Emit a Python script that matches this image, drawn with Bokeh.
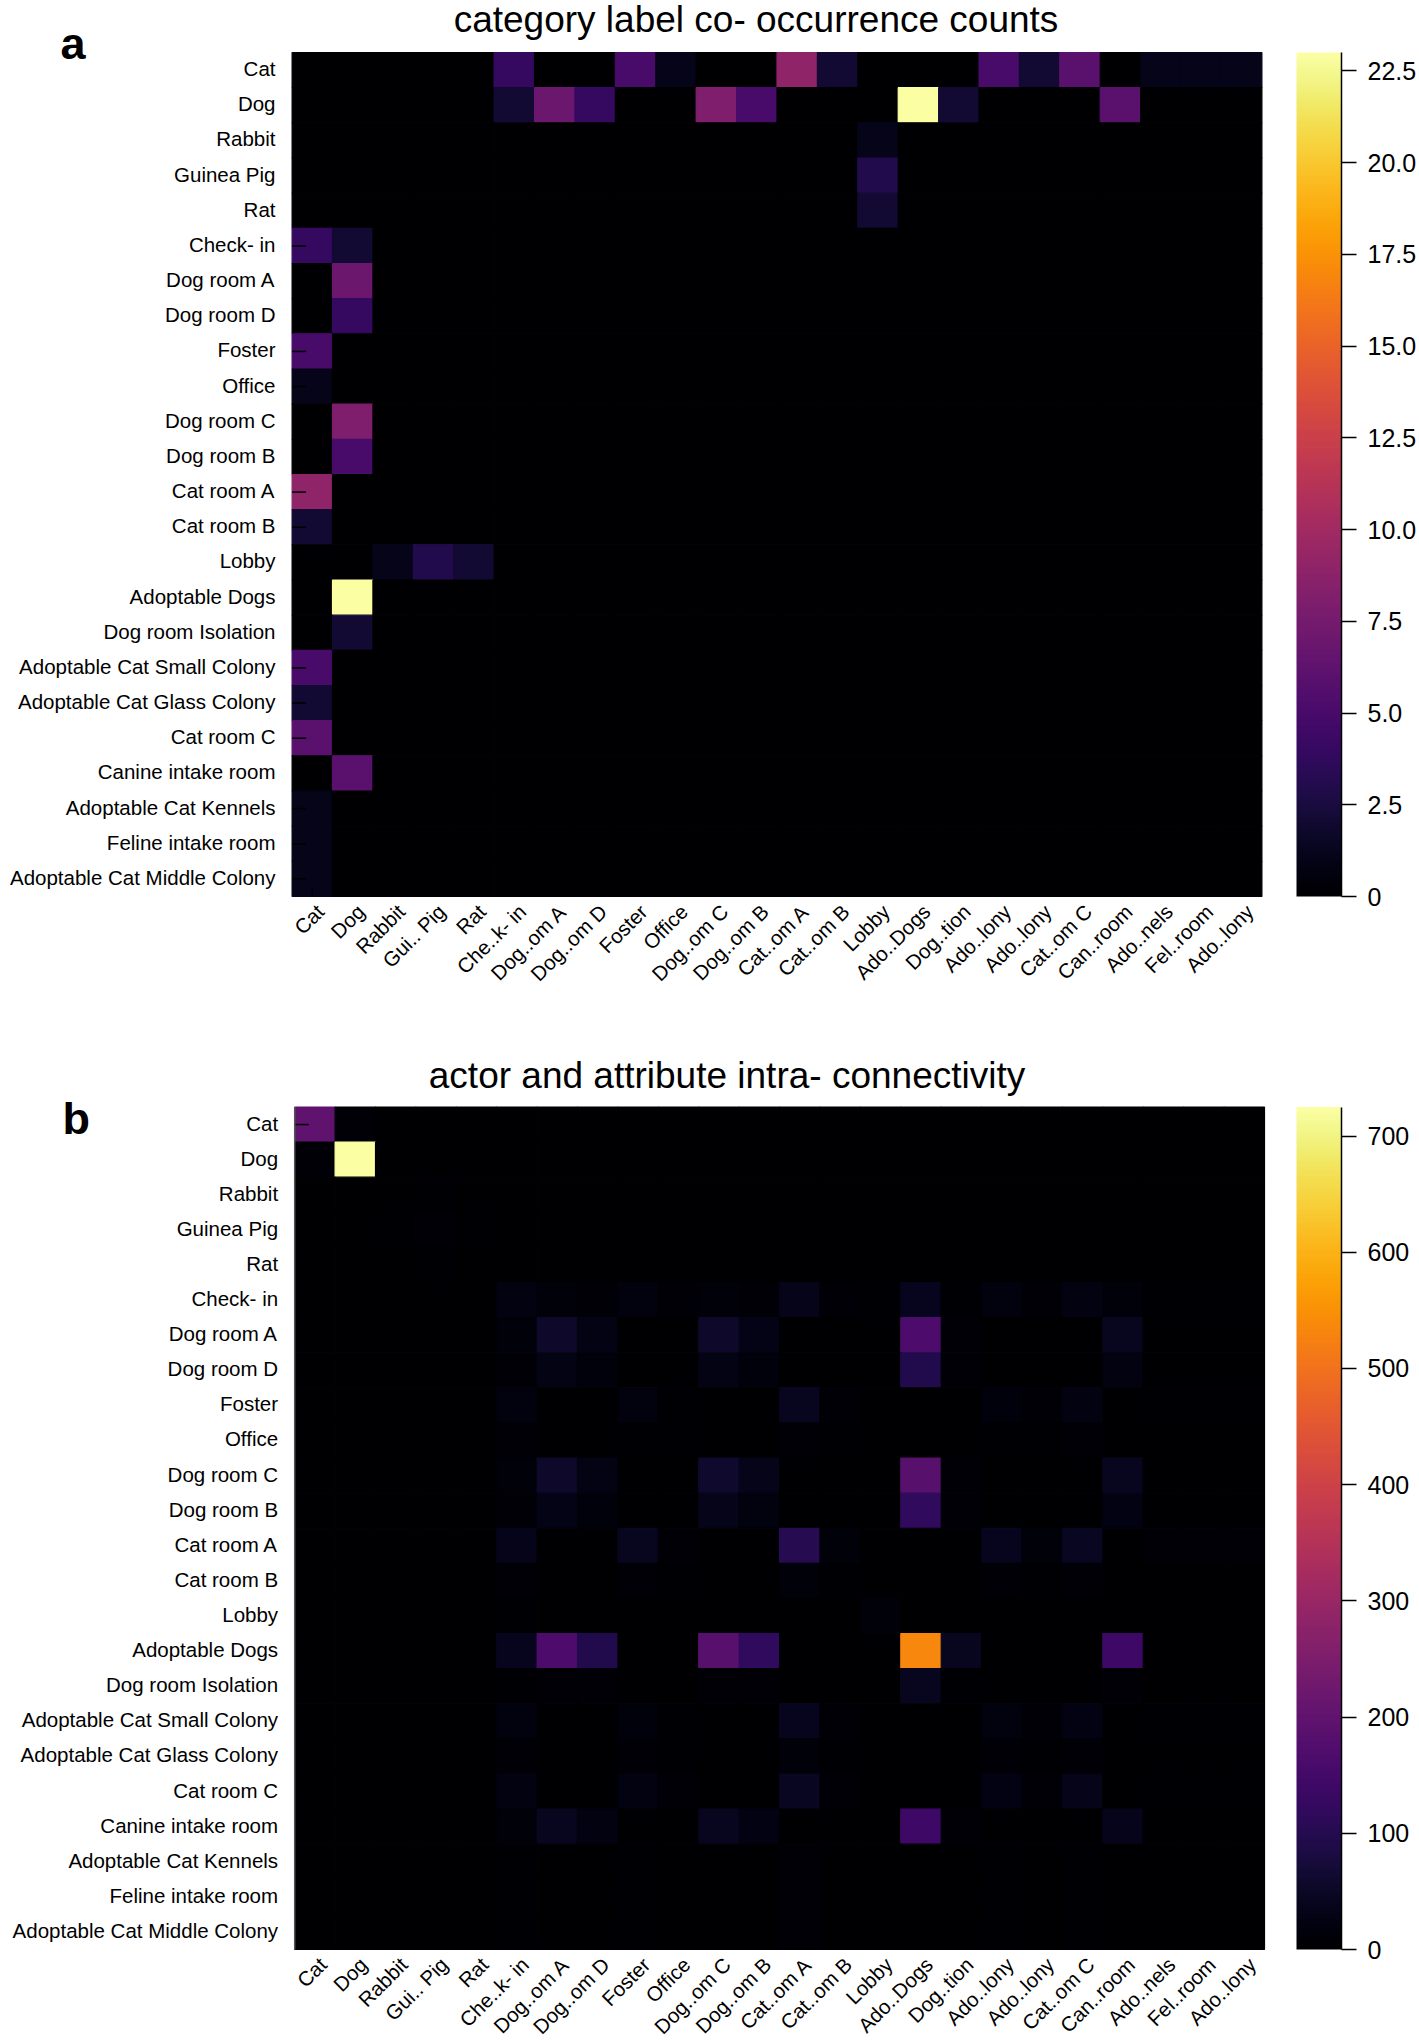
import math
import numpy as np
from bokeh.plotting import figure
from bokeh.layouts import column
from bokeh.models import (Range1d, LinearAxis, FixedTicker,
                          ColumnDataSource, LinearColorMapper)
from bokeh.transform import linear_cmap
from bokeh.palettes import Inferno256
from bokeh.core.properties import value
from bokeh.embed import file_html
from bokeh.resources import INLINE

# ---------------- data ----------------
categories = ["Cat", "Dog", "Rabbit", "Guinea Pig", "Rat", "Check- in",
              "Dog room A", "Dog room D", "Foster", "Office", "Dog room C",
              "Dog room B", "Cat room A", "Cat room B", "Lobby",
              "Adoptable Dogs", "Dog room Isolation",
              "Adoptable Cat Small Colony", "Adoptable Cat Glass Colony",
              "Cat room C", "Canine intake room", "Adoptable Cat Kennels",
              "Feline intake room", "Adoptable Cat Middle Colony"]

x_tick_labels = ["Cat", "Dog", "Rabbit", "Gui.. Pig", "Rat", "Che..k- in",
                 "Dog..om A", "Dog..om D", "Foster", "Office", "Dog..om C",
                 "Dog..om B", "Cat..om A", "Cat..om B", "Lobby", "Ado..Dogs",
                 "Dog..tion", "Ado..lony", "Ado..lony", "Cat..om C",
                 "Can..room", "Ado..nels", "Fel..room", "Ado..lony"]

# panel a: category label co-occurrence counts (rows/cols follow `categories`)
cooccurrence = [
    [0, 0, 0, 0, 0, 4, 0, 0, 5, 1, 0, 0, 9, 2, 0, 0, 0, 5, 2, 6, 0, 1, 1, 1],
    [0, 0, 0, 0, 0, 2, 7, 4, 0, 0, 8, 5, 0, 0, 0, 23, 2, 0, 0, 0, 6, 0, 0, 0],
    [0, 0, 0, 0, 0, 0, 0, 0, 0, 0, 0, 0, 0, 0, 1, 0, 0, 0, 0, 0, 0, 0, 0, 0],
    [0, 0, 0, 0, 0, 0, 0, 0, 0, 0, 0, 0, 0, 0, 3, 0, 0, 0, 0, 0, 0, 0, 0, 0],
    [0, 0, 0, 0, 0, 0, 0, 0, 0, 0, 0, 0, 0, 0, 2, 0, 0, 0, 0, 0, 0, 0, 0, 0],
    [4, 2, 0, 0, 0, 0, 0, 0, 0, 0, 0, 0, 0, 0, 0, 0, 0, 0, 0, 0, 0, 0, 0, 0],
    [0, 7, 0, 0, 0, 0, 0, 0, 0, 0, 0, 0, 0, 0, 0, 0, 0, 0, 0, 0, 0, 0, 0, 0],
    [0, 4, 0, 0, 0, 0, 0, 0, 0, 0, 0, 0, 0, 0, 0, 0, 0, 0, 0, 0, 0, 0, 0, 0],
    [5, 0, 0, 0, 0, 0, 0, 0, 0, 0, 0, 0, 0, 0, 0, 0, 0, 0, 0, 0, 0, 0, 0, 0],
    [1, 0, 0, 0, 0, 0, 0, 0, 0, 0, 0, 0, 0, 0, 0, 0, 0, 0, 0, 0, 0, 0, 0, 0],
    [0, 8, 0, 0, 0, 0, 0, 0, 0, 0, 0, 0, 0, 0, 0, 0, 0, 0, 0, 0, 0, 0, 0, 0],
    [0, 5, 0, 0, 0, 0, 0, 0, 0, 0, 0, 0, 0, 0, 0, 0, 0, 0, 0, 0, 0, 0, 0, 0],
    [9, 0, 0, 0, 0, 0, 0, 0, 0, 0, 0, 0, 0, 0, 0, 0, 0, 0, 0, 0, 0, 0, 0, 0],
    [2, 0, 0, 0, 0, 0, 0, 0, 0, 0, 0, 0, 0, 0, 0, 0, 0, 0, 0, 0, 0, 0, 0, 0],
    [0, 0, 1, 3, 2, 0, 0, 0, 0, 0, 0, 0, 0, 0, 0, 0, 0, 0, 0, 0, 0, 0, 0, 0],
    [0, 23, 0, 0, 0, 0, 0, 0, 0, 0, 0, 0, 0, 0, 0, 0, 0, 0, 0, 0, 0, 0, 0, 0],
    [0, 2, 0, 0, 0, 0, 0, 0, 0, 0, 0, 0, 0, 0, 0, 0, 0, 0, 0, 0, 0, 0, 0, 0],
    [5, 0, 0, 0, 0, 0, 0, 0, 0, 0, 0, 0, 0, 0, 0, 0, 0, 0, 0, 0, 0, 0, 0, 0],
    [2, 0, 0, 0, 0, 0, 0, 0, 0, 0, 0, 0, 0, 0, 0, 0, 0, 0, 0, 0, 0, 0, 0, 0],
    [6, 0, 0, 0, 0, 0, 0, 0, 0, 0, 0, 0, 0, 0, 0, 0, 0, 0, 0, 0, 0, 0, 0, 0],
    [0, 6, 0, 0, 0, 0, 0, 0, 0, 0, 0, 0, 0, 0, 0, 0, 0, 0, 0, 0, 0, 0, 0, 0],
    [1, 0, 0, 0, 0, 0, 0, 0, 0, 0, 0, 0, 0, 0, 0, 0, 0, 0, 0, 0, 0, 0, 0, 0],
    [1, 0, 0, 0, 0, 0, 0, 0, 0, 0, 0, 0, 0, 0, 0, 0, 0, 0, 0, 0, 0, 0, 0, 0],
    [1, 0, 0, 0, 0, 0, 0, 0, 0, 0, 0, 0, 0, 0, 0, 0, 0, 0, 0, 0, 0, 0, 0, 0],
]

# panel b: actor and attribute intra-connectivity
connectivity = [
    [200, 8, 0, 0, 0, 0, 0, 0, 0, 0, 0, 0, 0, 0, 0, 0, 0, 0, 0, 0, 0, 0, 0, 0],
    [8, 725, 0, 0, 0, 0, 0, 0, 0, 0, 0, 0, 0, 0, 0, 0, 0, 0, 0, 0, 0, 0, 0, 0],
    [0, 0, 1, 3, 1, 0, 0, 0, 0, 0, 0, 0, 0, 0, 0, 0, 0, 0, 0, 0, 0, 0, 0, 0],
    [0, 0, 3, 6, 3, 0, 0, 0, 0, 0, 0, 0, 0, 0, 0, 0, 0, 0, 0, 0, 0, 0, 0, 0],
    [0, 0, 1, 3, 2, 0, 0, 0, 0, 0, 0, 0, 0, 0, 0, 0, 0, 0, 0, 0, 0, 0, 0, 0],
    [0, 0, 0, 0, 0, 20, 12, 10, 18, 6, 12, 8, 32, 8, 3, 38, 4, 18, 8, 22, 12, 4, 4, 4],
    [0, 0, 0, 0, 0, 12, 55, 28, 0, 0, 55, 30, 0, 0, 0, 165, 8, 0, 0, 0, 40, 0, 0, 0],
    [0, 0, 0, 0, 0, 10, 28, 16, 0, 0, 26, 16, 0, 0, 0, 95, 7, 0, 0, 0, 20, 0, 0, 0],
    [0, 0, 0, 0, 0, 18, 0, 0, 18, 5, 0, 0, 40, 8, 0, 0, 0, 15, 7, 22, 0, 4, 4, 4],
    [0, 0, 0, 0, 0, 6, 0, 0, 5, 3, 0, 0, 8, 3, 0, 0, 0, 5, 3, 6, 0, 2, 2, 2],
    [0, 0, 0, 0, 0, 12, 55, 26, 0, 0, 58, 32, 0, 0, 0, 185, 9, 0, 0, 0, 42, 0, 0, 0],
    [0, 0, 0, 0, 0, 8, 30, 16, 0, 0, 32, 18, 0, 0, 0, 118, 7, 0, 0, 0, 24, 0, 0, 0],
    [0, 0, 0, 0, 0, 32, 0, 0, 40, 8, 0, 0, 100, 12, 0, 0, 0, 38, 12, 45, 0, 8, 8, 8],
    [0, 0, 0, 0, 0, 8, 0, 0, 8, 3, 0, 0, 12, 4, 0, 0, 0, 7, 3, 10, 0, 2, 2, 2],
    [0, 0, 0, 0, 0, 3, 0, 0, 0, 0, 0, 0, 0, 0, 12, 0, 0, 0, 0, 0, 0, 0, 0, 0],
    [0, 0, 0, 0, 0, 38, 165, 95, 0, 0, 185, 118, 0, 0, 0, 535, 40, 0, 0, 0, 140, 0, 0, 0],
    [0, 0, 0, 0, 0, 4, 8, 7, 0, 0, 9, 7, 0, 0, 0, 40, 5, 0, 0, 0, 8, 0, 0, 0],
    [0, 0, 0, 0, 0, 18, 0, 0, 15, 5, 0, 0, 38, 7, 0, 0, 0, 18, 6, 25, 0, 4, 4, 4],
    [0, 0, 0, 0, 0, 8, 0, 0, 7, 3, 0, 0, 12, 3, 0, 0, 0, 6, 4, 9, 0, 2, 2, 2],
    [0, 0, 0, 0, 0, 22, 0, 0, 22, 6, 0, 0, 45, 10, 0, 0, 0, 25, 9, 32, 0, 5, 5, 5],
    [0, 0, 0, 0, 0, 12, 40, 20, 0, 0, 42, 24, 0, 0, 0, 140, 8, 0, 0, 0, 35, 0, 0, 0],
    [0, 0, 0, 0, 0, 4, 0, 0, 4, 2, 0, 0, 8, 2, 0, 0, 0, 4, 2, 5, 0, 2, 2, 2],
    [0, 0, 0, 0, 0, 4, 0, 0, 4, 2, 0, 0, 8, 2, 0, 0, 0, 4, 2, 5, 0, 2, 2, 2],
    [0, 0, 0, 0, 0, 4, 0, 0, 4, 2, 0, 0, 8, 2, 0, 0, 0, 4, 2, 5, 0, 2, 2, 2],
]

cbar_a_ticks = [0, 2.5, 5, 7.5, 10, 12.5, 15, 17.5, 20, 22.5]
cbar_a_labels = ["0", "2.5", "5.0", "7.5", "10.0", "12.5", "15.0", "17.5", "20.0", "22.5"]
cbar_b_ticks = [0, 100, 200, 300, 400, 500, 600, 700]
cbar_b_labels = ["0", "100", "200", "300", "400", "500", "600", "700"]

title_a = "category label co- occurrence counts"
title_b = "actor and attribute intra- connectivity"

# ---------------- layout constants (pixels) ----------------
FONT = "Liberation Sans"
N = len(categories)
W = 1419            # canvas width
FRAME_R = 1341      # right edge of frame = right edge of colour bar
CB_L = 1296         # left edge of colour bar
TITLE_PX = 37
LETTER_PX = 45
MID = 0.3465        # baseline sits this many font-sizes below the 'middle' anchor


def make_panel(matrix, title, letter, cb_ticks, cb_labels, height,
               heat_left, heat_right, heat_top, heat_bottom,
               title_cx, title_base, letter_x, letter_base, left_line):
    cw = (heat_right - heat_left) / N        # px per column
    rh = (heat_bottom - heat_top) / N        # px per row
    x0 = -heat_left / cw
    x1 = (FRAME_R - heat_left) / cw
    ytop = -heat_top / rh
    ybot = N + (height - heat_bottom) / rh
    high = float(max(max(r) for r in matrix))

    p = figure(width=W, height=height, output_backend="svg",
               toolbar_location=None, tools="",
               x_range=Range1d(x0, x1), y_range=Range1d(ybot, ytop),
               x_axis_location=None, y_axis_location=None,
               min_border_left=0, min_border_top=0, min_border_bottom=0,
               min_border_right=W - FRAME_R,
               background_fill_color="white", border_fill_color="white",
               outline_line_color=None)
    p.extra_y_ranges = {"cb": Range1d(high * (N - ybot) / N, high * (N - ytop) / N)}
    p.xgrid.visible = False
    p.ygrid.visible = False

    # heatmap cells
    xs, ys, vals = [], [], []
    for i, row in enumerate(matrix):
        for j, v in enumerate(row):
            xs.append(j + 0.5)
            ys.append(i + 0.5)
            vals.append(v)
    src = ColumnDataSource(dict(x=xs, y=ys, value=vals))
    cmap = linear_cmap("value", Inferno256, low=0, high=high)
    p.rect(x="x", y="y", width=1, height=1, source=src,
           fill_color=cmap, line_color=cmap, line_width=1.2)

    # colour bar (image through its own y range)
    mapper = LinearColorMapper(palette=Inferno256, low=0, high=high)
    grad = np.linspace(0, high, 256).reshape(256, 1)
    cbx = (CB_L - heat_left) / cw
    p.image(image=[grad], x=cbx, y=0, dw=x1 - cbx, dh=high,
            color_mapper=mapper, y_range_name="cb")

    # row labels (category names) and inward ticks on the left edge
    ysrc = ColumnDataSource(dict(y=[i + 0.5 for i in range(N)], text=categories))
    p.text(x=-16.6 / cw, y="y", y_offset=-1.5, text="text", source=ysrc,
           text_align="right", text_baseline="middle",
           text_font=value(FONT), text_font_size=value("20.5px"),
           text_color="black")
    p.segment(x0=0, y0="y", x1=14 / cw, y1="y", source=ysrc,
              line_color="black", line_width=1.5)
    if left_line:
        p.segment(x0=[0], y0=[0], x1=[0], y1=[N], line_color="#555555",
                  line_width=1.5)

    # column labels (abbreviated names), rotated 45 degrees, and inward ticks
    xsrc = ColumnDataSource(dict(x=[j + 0.5 for j in range(N)], text=x_tick_labels))
    p.text(x="x", y=N, x_offset=8, y_offset=11.5, text="text", source=xsrc,
           angle=math.pi / 4, text_align="right", text_baseline="middle",
           text_font=value(FONT), text_font_size=value("20.5px"),
           text_color="black")
    p.segment(x0="x", y0=N, x1="x", y1=N - 9 / rh, source=xsrc,
              line_color="black", line_width=1.2)

    # right axis for the colour bar
    ra = LinearAxis(y_range_name="cb", bounds=(0, high),
                    ticker=FixedTicker(ticks=cb_ticks),
                    major_label_overrides={float(t): l for t, l in zip(cb_ticks, cb_labels)})
    ra.major_label_text_font = FONT
    ra.major_label_text_font_size = "25px"
    ra.major_label_text_color = "black"
    ra.major_tick_out = 15
    ra.major_tick_in = 0
    ra.major_tick_line_color = "black"
    ra.major_tick_line_width = 1.5
    ra.minor_tick_line_color = None
    ra.axis_line_color = "black"
    ra.axis_line_width = 1.5
    ra.major_label_standoff = 11
    p.add_layout(ra, "right")

    # title and panel letter (anchored at their vertical middle)
    p.text(x=[(title_cx - heat_left) / cw],
           y=[(title_base - MID * TITLE_PX - heat_top) / rh],
           text=[title], text_align="center", text_baseline="middle",
           text_font=value(FONT), text_font_size=value(f"{TITLE_PX}px"),
           text_color="black")
    p.text(x=[(letter_x - heat_left) / cw],
           y=[(letter_base - MID * LETTER_PX - heat_top) / rh],
           text=[letter], text_align="left", text_baseline="middle",
           text_font=value(FONT), text_font_size=value(f"{LETTER_PX}px"),
           text_font_style="bold", text_color="black")
    return p


pa = make_panel(cooccurrence, title_a, "a", cbar_a_ticks, cbar_a_labels,
                height=1006, heat_left=291.6, heat_right=1261.4,
                heat_top=52, heat_bottom=896,
                title_cx=755.5, title_base=31.8, letter_x=60, letter_base=58.6,
                left_line=False)
pb = make_panel(connectivity, title_b, "b", cbar_b_ticks, cbar_b_labels,
                height=1035, heat_left=294.2, heat_right=1264.0,
                heat_top=100.5, heat_bottom=943,
                title_cx=726.5, title_base=82, letter_x=62, letter_base=128,
                left_line=True)

layout = column(pa, pb, spacing=0)
open("out.html", "w").write(file_html(layout, INLINE))
